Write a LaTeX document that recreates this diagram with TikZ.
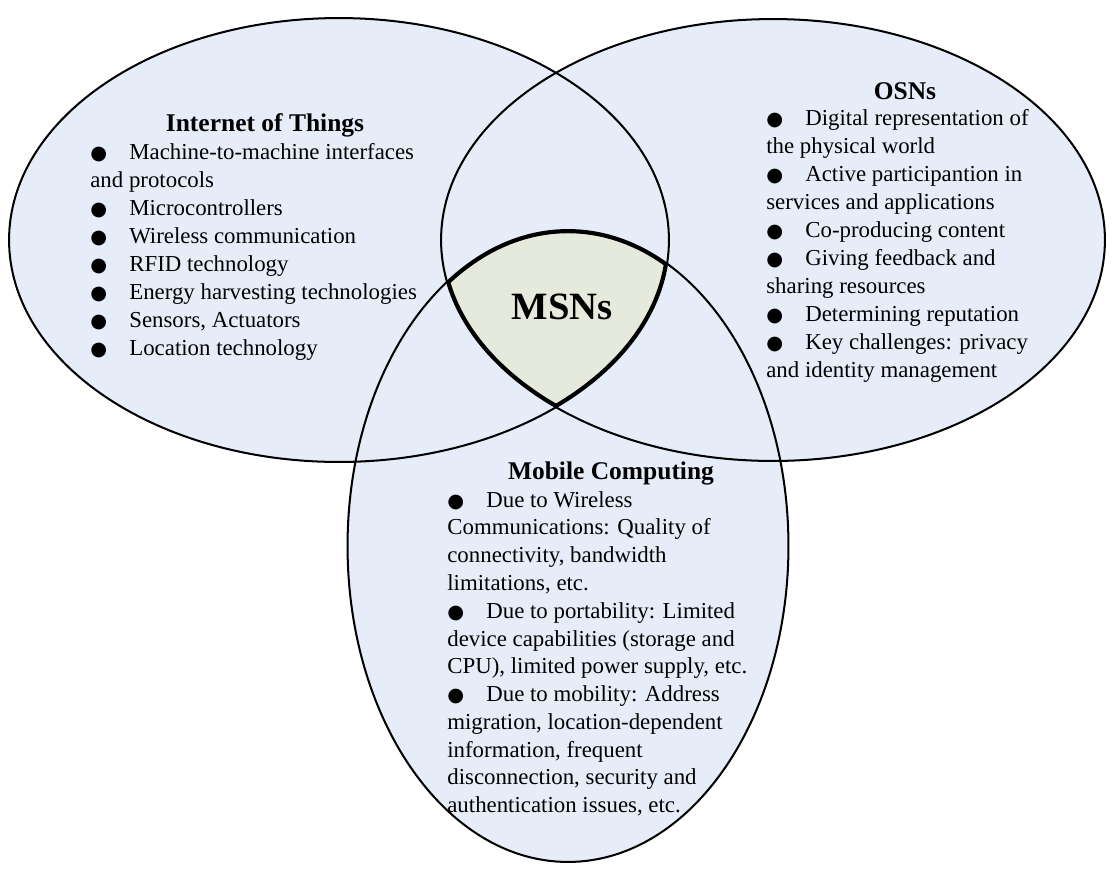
\documentclass[tikz,border=0pt]{standalone}
\usepackage{fontspec}
\setmainfont{Liberation Serif}
\newfontfamily\dotfont{DejaVu Sans}
\usetikzlibrary{positioning}

\definecolor{setblue}{RGB}{230,236,248}
\definecolor{coregreen}{RGB}{230,234,220}
\newcommand{\itemdot}{\makebox[0.78cm][l]{\dotfont\fontsize{11}{11}\selectfont ●}}

\tikzset{
    settitle/.style={font=\fontsize{14.5}{17}\selectfont\bfseries, anchor=base, inner sep=0pt},
    setlist/.style={font=\fontsize{13}{15.95}\selectfont, align=left, anchor=north west, inner sep=0pt},
    setline/.style={line width=1.15pt, black},
    iotset/.style={insert path={(339,240) ellipse [x radius=6.6cm, y radius=4.44cm]}},
    osnset/.style={insert path={(773,240) ellipse [x radius=6.64cm, y radius=4.42cm]}},
    mobset/.style={insert path={(568,546) ellipse [x radius=4.41cm, y radius=6.32cm]}}
}

\begin{document}
\begin{tikzpicture}[x=0.02cm, y=-0.02cm]
    \useasboundingbox (0,0) rectangle (1113,877);

    % the three sets, filled before any outline
    \fill[setblue, iotset];
    \fill[setblue, osnset];
    \fill[setblue, mobset];

    % MSNs: the part that all three sets share
    \begin{scope}
        \clip[iotset];
        \clip[osnset];
        \clip[mobset];
        \fill[coregreen, mobset];
        \draw[line width=3.6pt, iotset];
        \draw[line width=3.6pt, osnset];
        \draw[line width=3.6pt, mobset];
    \end{scope}

    \draw[setline, iotset];
    \draw[setline, osnset];
    \draw[setline, mobset];

    \node[font=\fontsize{22}{24}\selectfont\bfseries, inner sep=0pt] (msn) at (562,307) {MSNs};

    % Internet of Things
    \node[settitle] (iot-title) at (265,131) {Internet of Things};
    \node[setlist] (iot-list) at (90,143) {%
        \itemdot Machine-to-machine interfaces\\
        and protocols\\
        \itemdot Microcontrollers\\
        \itemdot Wireless communication\\
        \itemdot RFID technology\\
        \itemdot Energy harvesting technologies\\
        \itemdot Sensors, Actuators\\
        \itemdot Location technology};

    % OSNs
    \node[settitle] (osn-title) at (905,99) {OSNs};
    \node[setlist] (osn-list) at (766,109) {%
        \itemdot Digital representation of\\
        the physical world\\
        \itemdot Active participantion in\\
        services and applications\\
        \itemdot Co-producing content\\
        \itemdot Giving feedback and\\
        sharing resources\\
        \itemdot Determining reputation\\
        \itemdot Key challenges: privacy\\
        and identity management};

    % Mobile Computing
    \node[settitle] (mob-title) at (611,479) {Mobile Computing};
    \node[setlist, font=\fontsize{13}{15.8}\selectfont] (mob-list) at (447,491) {%
        \itemdot Due to Wireless\\
        Communications: Quality of\\
        connectivity, bandwidth\\
        limitations, etc.\\
        \itemdot Due to portability: Limited\\
        device capabilities (storage and\\
        CPU), limited power supply, etc.\\
        \itemdot Due to mobility: Address\\
        migration, location-dependent\\
        information, frequent\\
        disconnection, security and\\
        authentication issues, etc.};
\end{tikzpicture}
\end{document}
